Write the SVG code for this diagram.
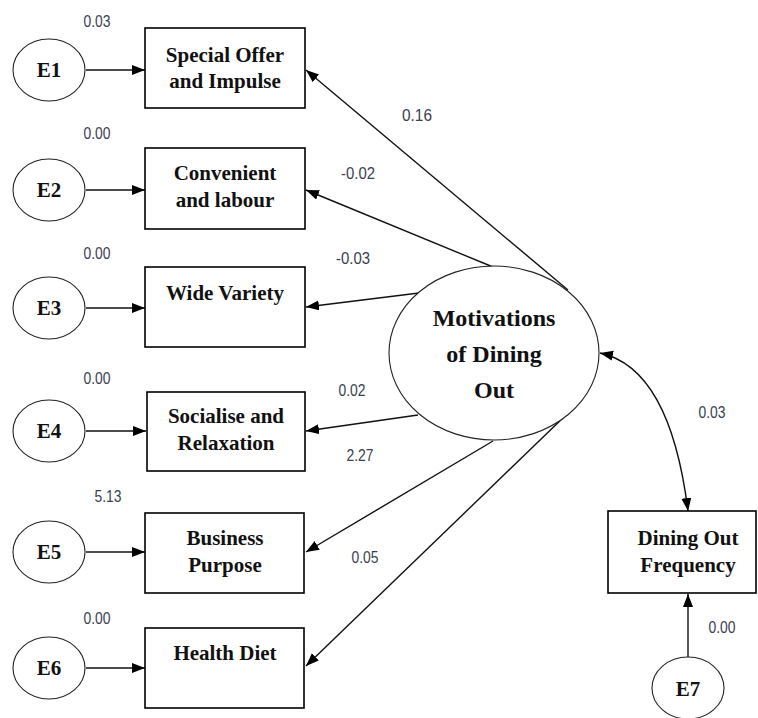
<svg xmlns="http://www.w3.org/2000/svg" width="758" height="718" viewBox="0 0 758 718">
<style>
.box{fill:#fff;stroke:#000;stroke-width:1.6}
.ell{fill:#fff;stroke:#222;stroke-width:1.1}
.lbl{font-family:"Liberation Serif","Times New Roman",serif;font-weight:bold;font-size:21px;fill:#111;text-anchor:middle}
.big{font-size:24px}
.num{font-family:"Liberation Sans",Arial,sans-serif;font-size:16.5px;fill:#3a4050;text-anchor:middle}
.ln{stroke:#111;stroke-width:1.4;fill:none;marker-end:url(#ah)}
</style>
<defs>
<marker id="ah" markerUnits="userSpaceOnUse" markerWidth="14" markerHeight="12" refX="13" refY="5" orient="auto">
<path d="M0,0 L13,5 L0,10 Z" fill="#000"/>
</marker>
<marker id="ahs" markerUnits="userSpaceOnUse" markerWidth="14" markerHeight="12" refX="13" refY="5" orient="auto-start-reverse">
<path d="M0,0 L13,5 L0,10 Z" fill="#000"/>
</marker>
</defs>
<rect width="758" height="718" fill="#fff"/>

<g id="connectors">
<line class="ln" x1="86" y1="70" x2="145" y2="70"/>
<line class="ln" x1="86" y1="190" x2="145" y2="190"/>
<line class="ln" x1="86" y1="308" x2="145" y2="308"/>
<line class="ln" x1="86" y1="431" x2="146" y2="431"/>
<line class="ln" x1="86" y1="552" x2="145" y2="552"/>
<line class="ln" x1="86" y1="668" x2="145" y2="668"/>
<line class="ln" x1="568" y1="290" x2="306" y2="70"/>
<line class="ln" x1="493" y1="267" x2="306" y2="190"/>
<line class="ln" x1="419" y1="293" x2="306" y2="307"/>
<line class="ln" x1="418" y1="415" x2="306" y2="431"/>
<line class="ln" x1="493" y1="441" x2="306" y2="552"/>
<line class="ln" x1="567" y1="414" x2="306" y2="666"/>
<path d="M600,353 Q670,368 688,511" stroke="#111" stroke-width="1.4" fill="none" marker-start="url(#ahs)" marker-end="url(#ah)"/>
<line class="ln" x1="688" y1="657" x2="688" y2="594"/>
<text class="num" x="417" y="121" textLength="30" lengthAdjust="spacingAndGlyphs">0.16</text>
<text class="num" x="358" y="179" textLength="34" lengthAdjust="spacingAndGlyphs">-0.02</text>
<text class="num" x="353" y="264" textLength="34" lengthAdjust="spacingAndGlyphs">-0.03</text>
<text class="num" x="352" y="396" textLength="27" lengthAdjust="spacingAndGlyphs">0.02</text>
<text class="num" x="360" y="461" textLength="27" lengthAdjust="spacingAndGlyphs">2.27</text>
<text class="num" x="365" y="563" textLength="27" lengthAdjust="spacingAndGlyphs">0.05</text>
<text class="num" x="712" y="418" textLength="27" lengthAdjust="spacingAndGlyphs">0.03</text>
<text class="num" x="722" y="633" textLength="27" lengthAdjust="spacingAndGlyphs">0.00</text>
</g>

<g id="E1"><ellipse class="ell" cx="49" cy="70" rx="36" ry="31"/><text class="lbl" x="49" y="77">E1</text><text class="num" x="97" y="27" textLength="27" lengthAdjust="spacingAndGlyphs">0.03</text></g>
<g id="E2"><ellipse class="ell" cx="49" cy="190" rx="36" ry="31"/><text class="lbl" x="49" y="197">E2</text><text class="num" x="97" y="139" textLength="27" lengthAdjust="spacingAndGlyphs">0.00</text></g>
<g id="E3"><ellipse class="ell" cx="49" cy="308" rx="36" ry="31"/><text class="lbl" x="49" y="315">E3</text><text class="num" x="97" y="259" textLength="27" lengthAdjust="spacingAndGlyphs">0.00</text></g>
<g id="E4"><ellipse class="ell" cx="49" cy="431" rx="36" ry="31"/><text class="lbl" x="49" y="438">E4</text><text class="num" x="97" y="384" textLength="27" lengthAdjust="spacingAndGlyphs">0.00</text></g>
<g id="E5"><ellipse class="ell" cx="49" cy="552" rx="36" ry="31"/><text class="lbl" x="49" y="559">E5</text><text class="num" x="108" y="502" textLength="27" lengthAdjust="spacingAndGlyphs">5.13</text></g>
<g id="E6"><ellipse class="ell" cx="49" cy="668" rx="36" ry="31"/><text class="lbl" x="49" y="675">E6</text><text class="num" x="97" y="624" textLength="27" lengthAdjust="spacingAndGlyphs">0.00</text></g>

<g id="special-offer"><rect class="box" x="145" y="28" width="160" height="80"/><text class="lbl" x="225" y="62">Special Offer</text><text class="lbl" x="225" y="88">and Impulse</text></g>
<g id="convenient"><rect class="box" x="145" y="148" width="160" height="81"/><text class="lbl" x="225" y="180">Convenient</text><text class="lbl" x="225" y="207">and labour</text></g>
<g id="wide-variety"><rect class="box" x="145" y="267" width="160" height="80"/><text class="lbl" x="225" y="300">Wide Variety</text></g>
<g id="socialise"><rect class="box" x="147" y="392" width="158" height="79"/><text class="lbl" x="226" y="423">Socialise and</text><text class="lbl" x="226" y="450">Relaxation</text></g>
<g id="business"><rect class="box" x="145" y="513" width="159" height="80"/><text class="lbl" x="225" y="545">Business</text><text class="lbl" x="225" y="572">Purpose</text></g>
<g id="health"><rect class="box" x="145" y="628" width="159" height="80"/><text class="lbl" x="225" y="660">Health Diet</text></g>

<g id="motivations"><ellipse class="ell" cx="494" cy="353" rx="105" ry="87"/><text class="lbl big" x="494" y="326">Motivations</text><text class="lbl big" x="494" y="362">of Dining</text><text class="lbl big" x="494" y="398">Out</text></g>

<g id="frequency"><rect class="box" x="608" y="511" width="148" height="82"/><text class="lbl" x="688" y="545">Dining Out</text><text class="lbl" x="688" y="572">Frequency</text></g>
<g id="E7"><ellipse class="ell" cx="688" cy="688" rx="36" ry="31"/><text class="lbl" x="688" y="696">E7</text></g>
</svg>
